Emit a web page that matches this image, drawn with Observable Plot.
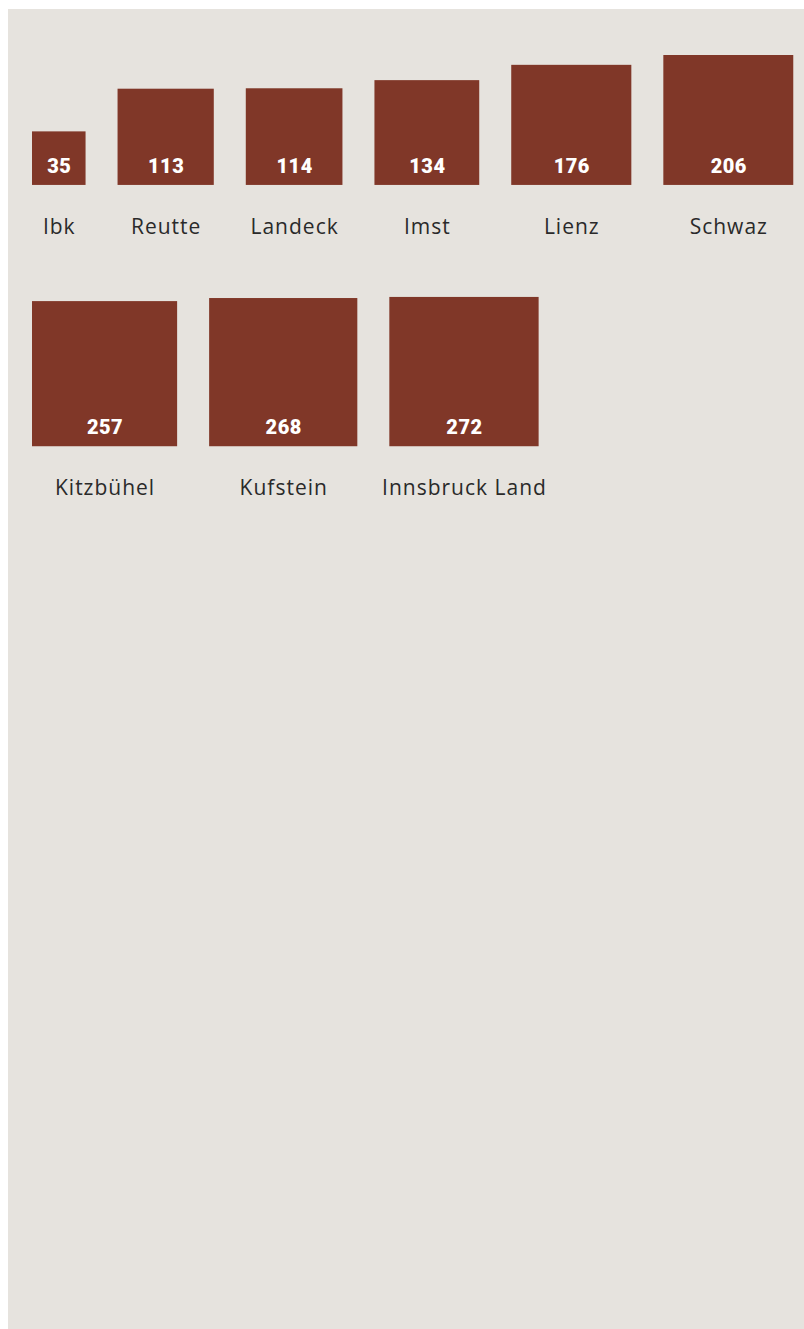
<!DOCTYPE html>
<html>
<head>
<meta charset="utf-8">
<script src="https://cdn.jsdelivr.net/npm/d3@7"></script>
<script src="https://cdn.jsdelivr.net/npm/@observablehq/plot@0.6"></script>
<style>
  html, body { margin: 0; padding: 0; background: #ffffff; overflow: hidden; }
  body { padding: 9px 0 0 8px; }
  #panel { background: #e6e3de; width: 796px; height: 1320px; }
  #panel svg { display: block; }
</style>
</head>
<body>
<div id="panel"></div>
<script>
// Data
const names = ["Ibk", "Reutte", "Landeck", "Imst", "Lienz", "Schwaz", "Kitzbühel", "Kufstein", "Innsbruck Land"];
const values = [35, 113, 114, 134, 176, 206, 257, 268, 272];

// Layout settings
const W = 796, H = 1320;
const padLeft = 24, gap = 32, maxRight = 792;
const firstTop = 46, rowGap = 112;
const side = d3.scaleSqrt().domain([0, d3.max(values)]).range([0, 149.3]);

// Flow layout: squares sit on a common baseline per row, wrapping when full
const items = names.map((name, i) => ({name, value: values[i], s: side(values[i])}));
const rows = [];
let cur = [], xPos = padLeft;
for (const it of items) {
  if (cur.length && xPos + it.s > maxRight) { rows.push(cur); cur = []; xPos = padLeft; }
  it.x1 = xPos; it.x2 = xPos + it.s; xPos = it.x2 + gap;
  cur.push(it);
}
if (cur.length) rows.push(cur);
let rowTop = firstTop;
for (const row of rows) {
  const base = rowTop + d3.max(row, d => d.s);
  for (const it of row) { it.base = base; it.y1 = base - it.s; it.y2 = base; it.cx = (it.x1 + it.x2) / 2; }
  rowTop = base + rowGap;
}

const chart = Plot.plot({
  width: W,
  height: H,
  margin: 0,
  x: {type: "identity", axis: null},
  y: {type: "identity", axis: null},
  style: {background: "transparent", overflow: "visible"},
  marks: [
    Plot.rect(items, {x1: "x1", x2: "x2", y1: "y1", y2: "y2", fill: "#803728"}),
    Plot.text(items, {
      x: "cx", y: d => d.base - 12.5, text: d => String(d.value),
      fill: "#ffffff", fontSize: 20, fontWeight: 900, fontFamily: "Roboto",
      textAnchor: "middle", lineAnchor: "bottom"
    }),
    Plot.text(items, {
      x: "cx", y: d => d.base + 48.5, text: "name",
      fill: "#2a2a2a", fontSize: 21, fontFamily: "Open Sans",
      textAnchor: "middle", lineAnchor: "bottom"
    })
  ]
});
const groups = chart.querySelectorAll('g[aria-label="text"]');
if (groups[1]) groups[1].style.letterSpacing = "1px";
if (groups[0]) groups[0].style.letterSpacing = "0.5px";
document.getElementById("panel").appendChild(chart);
</script>
</body>
</html>
